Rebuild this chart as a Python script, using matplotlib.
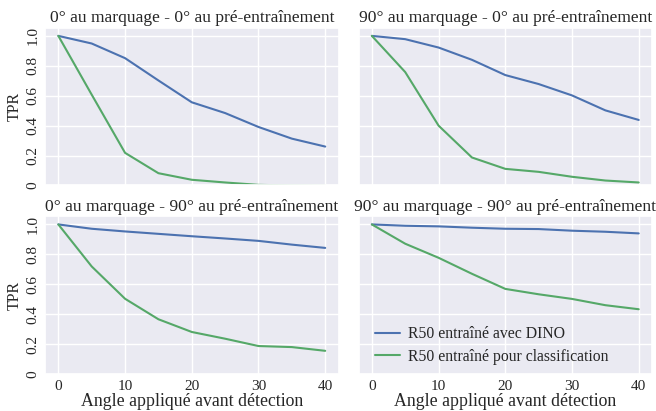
import matplotlib
matplotlib.use("Agg")
import matplotlib.pyplot as plt
import seaborn as sns

sns.set_theme(style="darkgrid")
plt.rcParams['font.family'] = ['Liberation Serif', 'DejaVu Serif']

angles = [0, 5, 10, 15, 20, 25, 30, 35, 40]

titles = ["0° au marquage - 0° au pré-entraînement",
          "90° au marquage - 0° au pré-entraînement",
          "0° au marquage - 90° au pré-entraînement",
          "90° au marquage - 90° au pré-entraînement"]

dino = [
    [1.0, 0.949, 0.851, 0.702, 0.556, 0.484, 0.391, 0.313, 0.26],
    [1.0, 0.978, 0.922, 0.84, 0.738, 0.678, 0.602, 0.502, 0.438],
    [1.0, 0.971, 0.953, 0.937, 0.921, 0.906, 0.89, 0.865, 0.843],
    [1.0, 0.991, 0.987, 0.978, 0.971, 0.969, 0.958, 0.951, 0.94],
]
classif = [
    [1.0, 0.607, 0.218, 0.082, 0.038, 0.02, 0.004, 0.0, -0.002],
    [1.0, 0.758, 0.40, 0.187, 0.111, 0.091, 0.058, 0.033, 0.02],
    [1.0, 0.719, 0.503, 0.366, 0.281, 0.236, 0.187, 0.18, 0.155],
    [1.0, 0.871, 0.777, 0.67, 0.569, 0.533, 0.502, 0.46, 0.433],
]

yticks = [0, 0.2, 0.4, 0.6, 0.8, 1.0]
ylabels = ['0', '0.2', '0.4', '0.6', '0.8', '1.0']

fig, axes = plt.subplots(2, 2, figsize=(6.56, 4.11), dpi=100, sharex=True, sharey=True)
plt.subplots_adjust(left=0.0686, right=0.994, top=0.932, bottom=0.090, wspace=0.068, hspace=0.197)

for i, ax in enumerate(axes.flat):
    ax.plot(angles, dino[i], color="#4c72b0", linewidth=1.5, label="R50 entraîné avec DINO")
    ax.plot(angles, classif[i], color="#55a868", linewidth=1.5, label="R50 entraîné pour classification")
    ax.set_title(titles[i], fontsize=12.6, pad=4)
    ax.set_ylim(0, 1.053)
    ax.set_xticks([0, 10, 20, 30, 40])
    ax.set_yticks(yticks)
    ax.set_yticklabels(ylabels, rotation=90, va='center')
    ax.tick_params(labelsize=11, length=0, pad=4)

axes[0, 0].set_ylabel("TPR", fontsize=11.5, labelpad=3)
axes[1, 0].set_ylabel("TPR", fontsize=11.5, labelpad=3)
axes[1, 0].set_xlabel("Angle appliqué avant détection", fontsize=12.8, labelpad=0)
axes[1, 1].set_xlabel("Angle appliqué avant détection", fontsize=12.8, labelpad=0)
axes[1, 1].legend(loc='lower left', fontsize=11.3, frameon=False, labelspacing=0.4,
                  handlelength=1.6, handletextpad=0.5, borderaxespad=0.2,
                  bbox_to_anchor=(0.025, 0.0))

plt.savefig("out.png", dpi=100)
